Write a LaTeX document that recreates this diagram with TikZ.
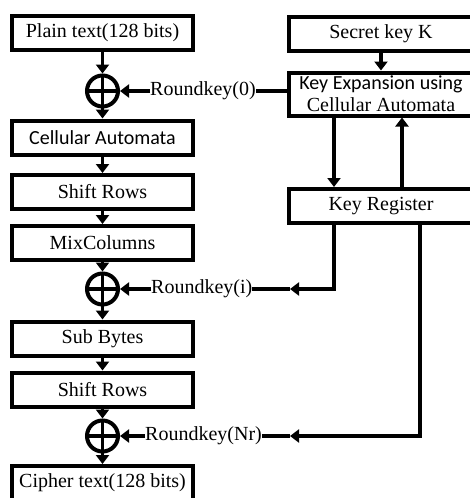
\documentclass[tikz,border=0pt]{standalone}
\usepackage{fontspec}
\setmainfont{Liberation Serif}
\newfontfamily\calib{Carlito}
\usetikzlibrary{arrows.meta}
\begin{document}
\begin{tikzpicture}[x=1pt,y=-1pt,
  font=\fontsize{20}{22}\selectfont,
  box/.style={draw, line width=4pt, minimum width=181.5pt, minimum height=34pt,
              inner sep=0pt, align=center},
  rbox/.style={box, minimum width=185pt},
  xor/.style={circle, draw, line width=4pt, minimum size=31pt, inner sep=0pt},
  flow/.style={line width=3.5pt, -{Triangle[length=9pt,width=13pt]}},
  wire/.style={line width=3.5pt},
  lbl/.style={inner sep=0pt, anchor=west}]
\useasboundingbox (0,0) rectangle (470,498);
\clip (0,0) rectangle (470,498);

% encryption rounds
\node[box] (plain) at (102.5,33) {Plain text(128 bits)};
\node[xor] (x0) at (102.5,91) {};
\node[box] (ca) at (102.5,137.5) {\calib Cellular Automata};
\node[box] (sr1) at (102.5,192) {Shift Rows};
\node[box] (mc) at (102.5,243) {MixColumns};
\node[xor] (x1) at (102.5,289) {};
\node[box] (sb) at (102.5,338.5) {Sub Bytes};
\node[box] (sr2) at (102.5,389.5) {Shift Rows};
\node[xor] (x2) at (102.5,436) {};
\node[box] (ct) at (102.5,483) {Cipher text(128 bits)};

% key schedule
\node[rbox] (sk) at (381,33.5) {Secret key K};
\node[rbox, minimum height=43pt] (ke) at (381,94) {{\calib Key Expansion using}\\Cellular Automata};
\node[rbox] (kr) at (381,206) {Key Register};

% round key labels
\node[lbl] (rk0) at (150,91) {Roundkey(0)};
\node[lbl] (rki) at (151,289) {Roundkey(i)};
\node[lbl] (rkn) at (145,436) {Roundkey(Nr)};

% XOR crosses
\foreach \x in {x0,x1,x2}
  \draw[wire] (\x.north) -- (\x.south) (\x.west) -- (\x.east);

% data path
\draw[flow] (plain) -- (x0);
\draw[flow] (x0) -- (ca);
\draw[flow] (ca) -- (sr1);
\draw[flow] (sr1) -- (mc);
\draw[flow] (mc) -- (x1);
\draw[flow] (x1) -- (sb);
\draw[flow] (sb) -- (sr2);
\draw[flow] (sr2) -- (x2);
\draw[flow] (x2) -- (ct);

% round keys into the XORs
\draw[flow] (rk0.west) -- (x0.east);
\draw[flow] (rki.west) -- (x1.east);
\draw[flow] (rkn.west) -- (x2.east);

% key expansion links
\draw[flow] (sk) -- (ke);
\coordinate (kedown) at ([xshift=-47pt]ke.south);
\coordinate (krup) at ([xshift=21pt]kr.north);
\draw[flow] (kedown) -- (kedown |- kr.north);
\draw[flow] (krup) -- (krup |- ke.south);
\draw[wire] (ke.west |- rk0.east) -- (rk0.east);

% round keys from the register
\coordinate (k1) at ([xshift=-47pt]kr.south);
\coordinate (k2) at ([xshift=39pt]kr.south);
\coordinate (m1) at (290,289);
\coordinate (m2) at (290,436);
\draw[flow] (k1) |- (m1);
\draw[wire] (m1) -- (rki.east);
\draw[flow] (k2) |- (m2);
\draw[wire] (m2) -- (rkn.east);
\end{tikzpicture}
\end{document}
